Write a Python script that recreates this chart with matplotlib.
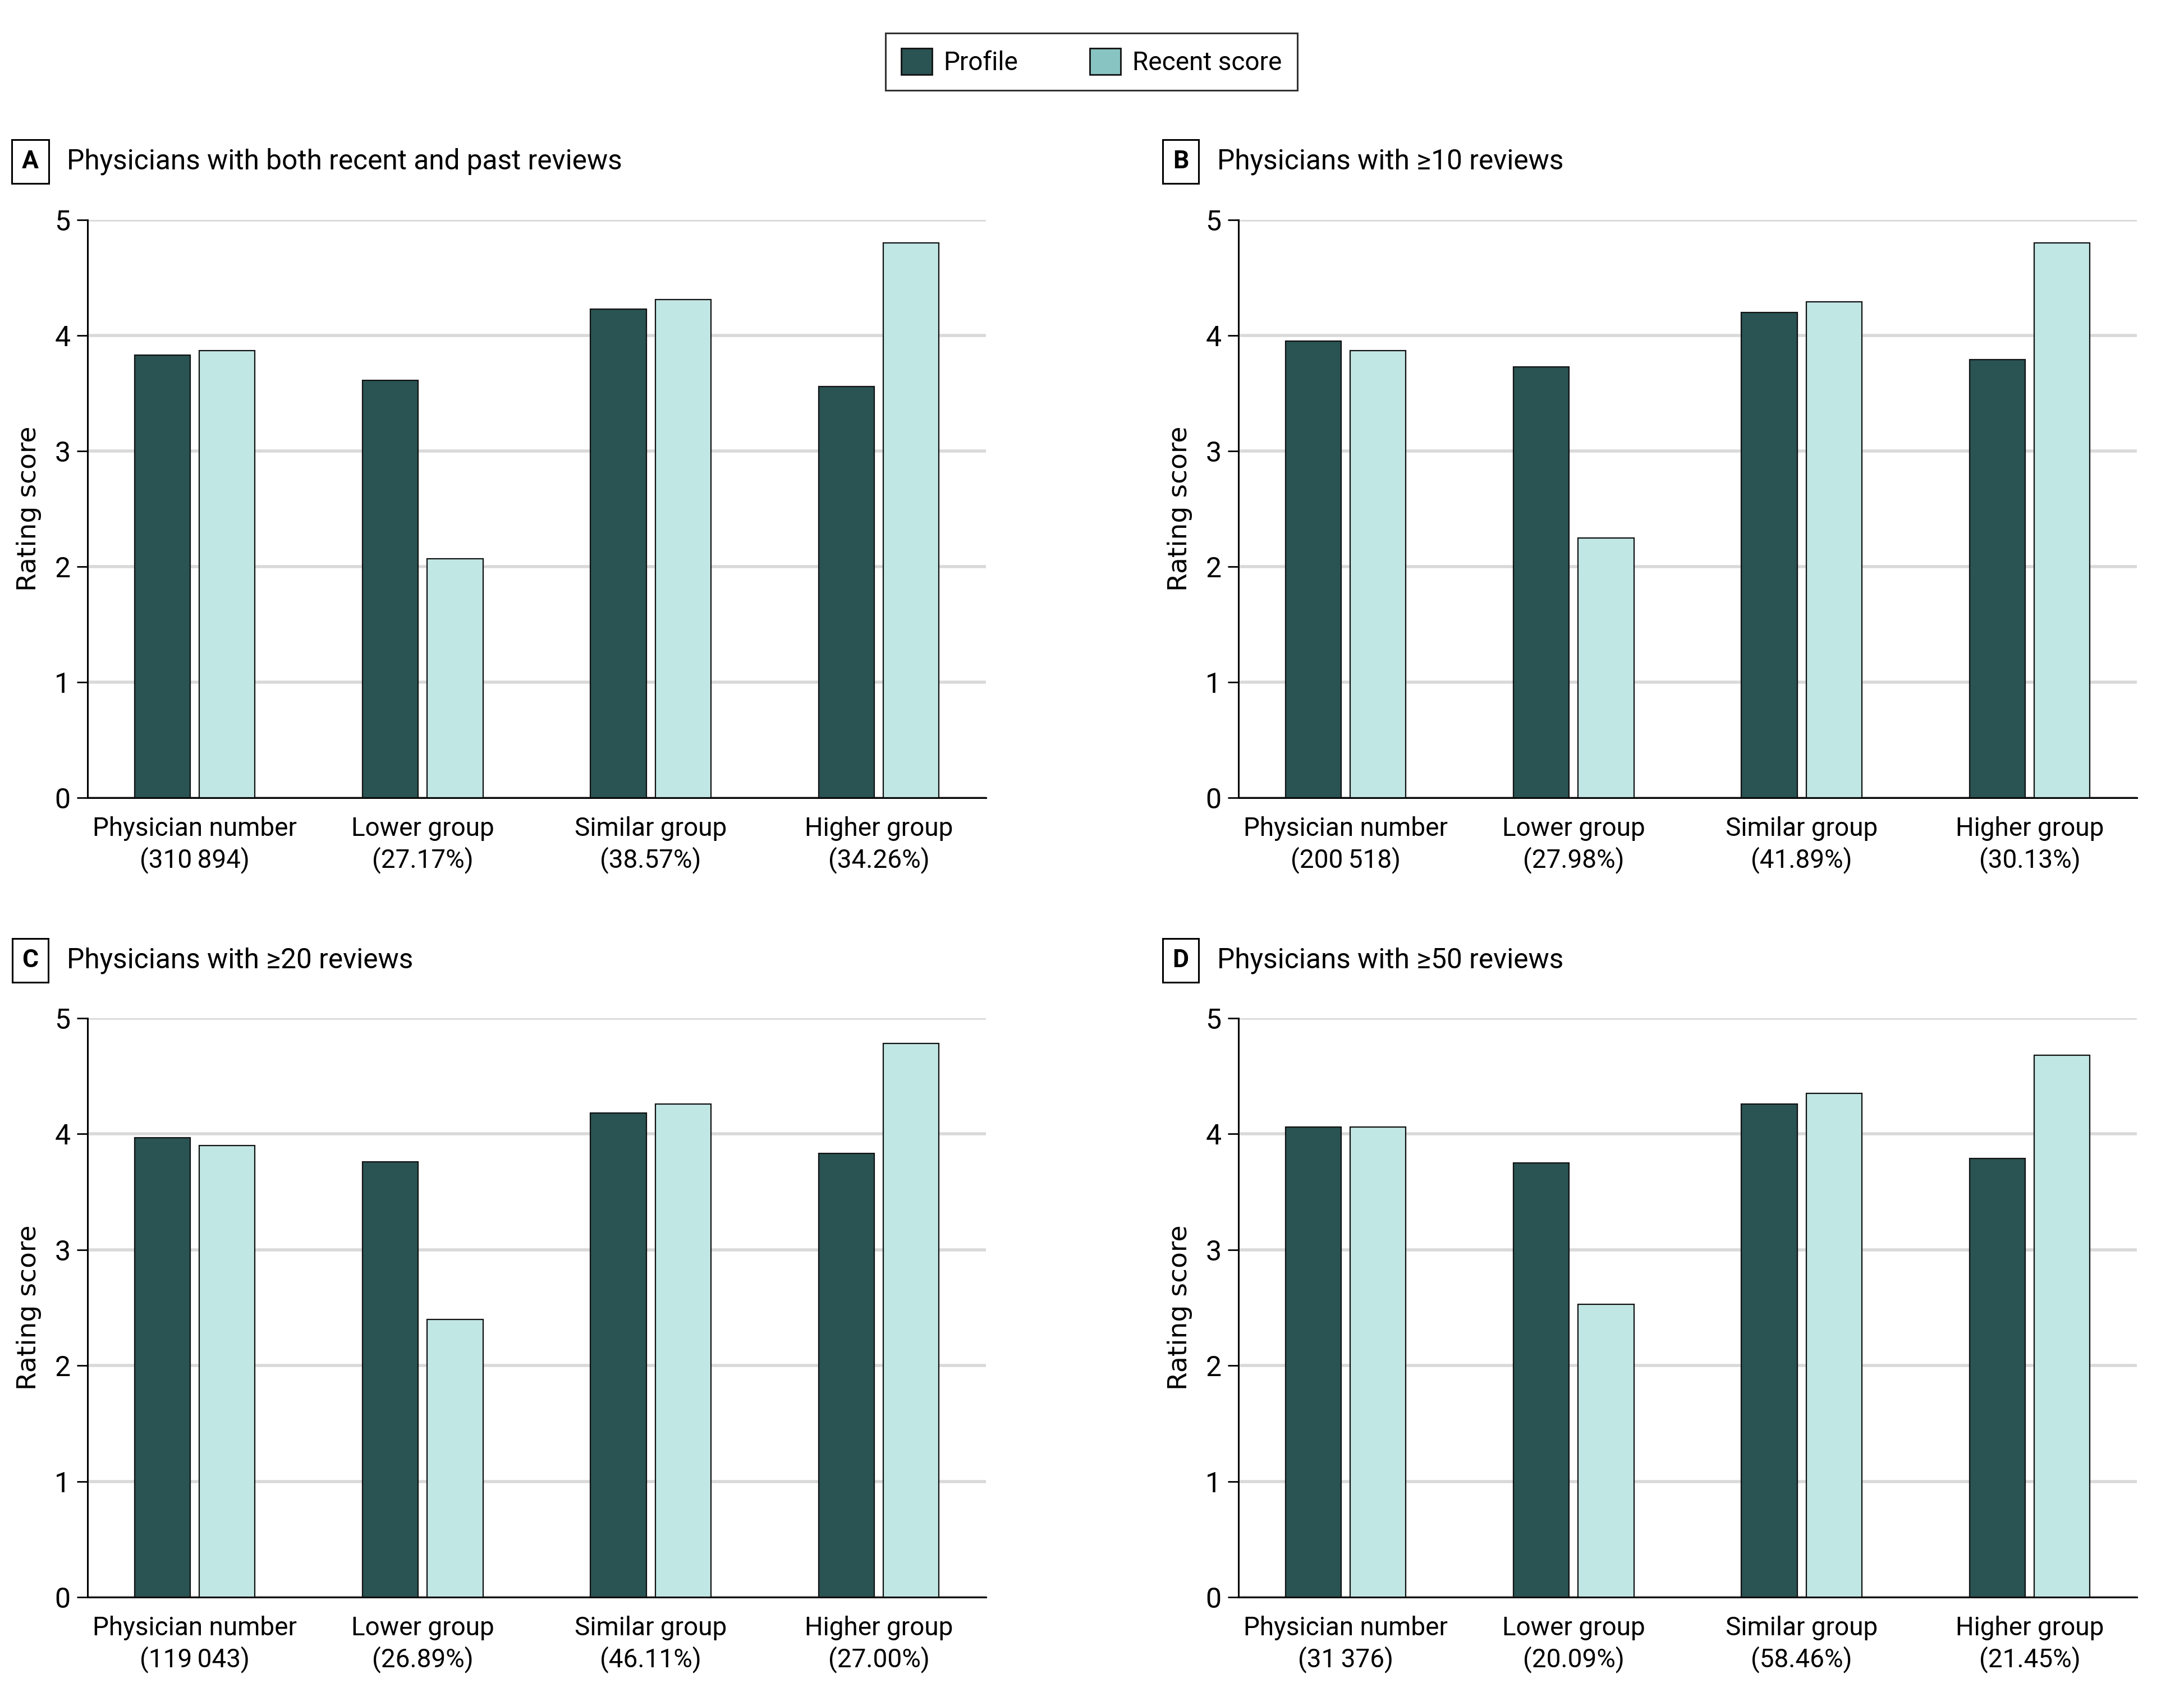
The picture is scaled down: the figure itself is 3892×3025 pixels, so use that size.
import matplotlib
matplotlib.use("Agg")
import matplotlib.pyplot as plt
from matplotlib.patches import Patch
import numpy as np

W, H = 3892, 3025
DPI = 100

categories = ["Physician number", "Lower group", "Similar group", "Higher group"]
series_names = ["Profile", "Recent score"]

panel_letters = ["A", "B", "C", "D"]
panel_titles = [
    "Physicians with both recent and past reviews",
    "Physicians with \u226510 reviews",
    "Physicians with \u226520 reviews",
    "Physicians with \u226550 reviews",
]
panel_sublabels = [
    ["(310\u2009894)", "(27.17%)", "(38.57%)", "(34.26%)"],
    ["(200\u2009518)", "(27.98%)", "(41.89%)", "(30.13%)"],
    ["(119\u2009043)", "(26.89%)", "(46.11%)", "(27.00%)"],
    ["(31\u2009376)", "(20.09%)", "(58.46%)", "(21.45%)"],
]

profile_A = [3.83, 3.61, 4.23, 3.56]
recent_A = [3.87, 2.07, 4.31, 4.80]
profile_B = [3.95, 3.73, 4.20, 3.79]
recent_B = [3.87, 2.25, 4.29, 4.80]
profile_C = [3.97, 3.76, 4.18, 3.83]
recent_C = [3.90, 2.40, 4.26, 4.78]
profile_D = [4.06, 3.75, 4.26, 3.79]
recent_D = [4.06, 2.53, 4.35, 4.68]

profiles = [profile_A, profile_B, profile_C, profile_D]
recents = [recent_A, recent_B, recent_C, recent_D]

yticks = [0, 1, 2, 3, 4, 5]

DARK = "#2a5353"
LIGHT = "#c1e7e5"
LEGEND_LIGHT = "#88c4c2"
GRID = "#d9d9d9"

main_font = ["Roboto", "DejaVu Sans"]
plt.rcParams["font.family"] = main_font

fig = plt.figure(figsize=(W / DPI, H / DPI), dpi=DPI)

# axes boxes in pixels: (left, top, right, bottom)
boxes = [
    (156, 392, 1757, 1422),
    (2207, 392, 3808, 1422),
    (156, 1815, 1757, 2847),
    (2207, 1815, 3808, 2847),
]
title_y = [288, 288, 1712, 1712]
letter_x = [54, 2104, 54, 2104]
title_x = [119, 2169, 119, 2169]

x = np.arange(len(categories))
bw = 0.245
off = 0.142

for i in range(4):
    l, t, r, b = boxes[i]
    ax = fig.add_axes([l / W, 1 - b / H, (r - l) / W, (b - t) / H])
    ax.bar(x - off, profiles[i], bw, color=DARK, edgecolor="#111111", linewidth=1.6, zorder=3)
    ax.bar(x + off, recents[i], bw, color=LIGHT, edgecolor="#111111", linewidth=1.6, zorder=3)
    ax.set_xlim(-0.47, 3.47)
    ax.set_ylim(0, 5)
    ax.set_yticks(yticks)
    ax.set_yticklabels([str(v) for v in yticks], fontsize=36)
    ax.yaxis.grid(True, color=GRID, linewidth=4, zorder=0)
    ax.set_axisbelow(True)
    ax.set_xticks(x)
    ax.set_xticklabels([f"{c}\n{s}" for c, s in zip(categories, panel_sublabels[i])],
                       fontsize=33, linespacing=1.25)
    ax.tick_params(axis="x", length=0, pad=24)
    ax.tick_params(axis="y", length=14, width=2, pad=8, direction="out")
    for s in ["top", "right"]:
        ax.spines[s].set_visible(False)
    ax.spines["left"].set_linewidth(2.2)
    ax.spines["bottom"].set_linewidth(2.2)
    ax.set_ylabel("Rating score", fontsize=34, family=["DejaVu Sans"])
    ax.yaxis.set_label_coords(-0.051, 0.5)

    fig.text(letter_x[i] / W, 1 - title_y[i] / H, panel_letters[i], fontsize=32,
             fontweight="bold", ha="center", va="center",
             bbox=dict(boxstyle="square,pad=0.4", facecolor="white", edgecolor="black", linewidth=2.2))
    fig.text(title_x[i] / W, 1 - title_y[i] / H, panel_titles[i], fontsize=35.7,
             ha="left", va="center")

handles = [Patch(facecolor=DARK, edgecolor="#111111", linewidth=2),
           Patch(facecolor=LEGEND_LIGHT, edgecolor="#111111", linewidth=2)]
leg = fig.legend(handles, series_names, loc="center", bbox_to_anchor=(1945 / W, 1 - 110 / H),
                 ncol=2, fontsize=33, frameon=True, fancybox=False, edgecolor="black",
                 handlelength=1.2, handleheight=1.2, handletextpad=0.45, columnspacing=2.8,
                 borderpad=0.6)
leg.get_frame().set_linewidth(2.2)

fig.savefig("out.png", dpi=DPI)
